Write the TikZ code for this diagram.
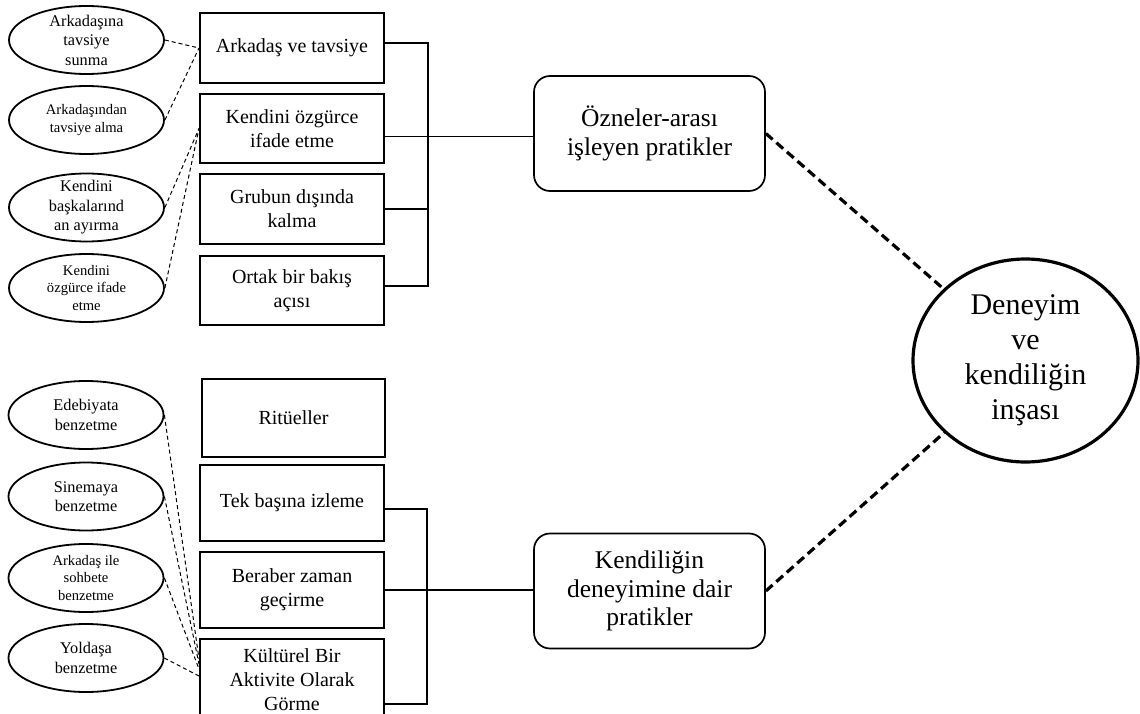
\documentclass[tikz,border=0pt]{standalone}
\usepackage{fontspec}
\setmainfont{Liberation Serif}
\usetikzlibrary{shapes.geometric}
\tikzset{
	fs/.style 2 args={font=\fontsize{#1}{#2}\selectfont},
	item box/.style={draw, line width=2pt, minimum width=184pt, inner sep=2pt,
		align=center, fs={20}{24}},
	theme box/.style={draw, line width=1.7pt, rounded corners=16pt,
		minimum width=231pt, minimum height=115pt, align=center, fs={25.5}{28.5}},
	sub ellipse/.style={draw, ellipse, line width=1.8pt, minimum width=155pt,
		minimum height=68pt, inner sep=-6pt, align=center, fs={16.3}{19.5}},
	small text/.style={fs={14.6}{17.5}},
	core/.style={draw, ellipse, line width=3.2pt, minimum width=225pt,
		minimum height=203pt, inner sep=0pt, align=center, fs={30}{35}},
	hint/.style={line width=1pt, dash pattern=on 4pt off 3pt},
	main link/.style={line width=3.2pt, dash pattern=on 9pt off 5pt},
	bracket/.style={line width=1.7pt}
}

\begin{document}
\begin{tikzpicture}[x=1pt, y=-1pt]
  \useasboundingbox (0,0) rectangle (1140,714);
  \clip (0,0) rectangle (1140,714);
  % upper group
  \node[item box, minimum height=70pt] (friend)  at (292,48)    {Arkadaş ve tavsiye};
  \node[item box, minimum height=69pt] (express) at (292,128.5) {Kendini özgürce\\ifade etme};
  \node[item box, minimum height=70pt] (outside) at (292,209)   {Grubun dışında\\kalma};
  \node[item box, minimum height=69pt] (common)  at (292,290.5) {Ortak bir bakış\\açısı};
  % lower group
  \node[item box, minimum width=183pt, minimum height=78pt] (ritual) at (293.5,418) {Ritüeller};
  \node[item box, minimum height=76pt] (alone)    at (292,503) {Tek başına izleme};
  \node[item box, minimum height=76pt] (together) at (292,590) {Beraber zaman\\geçirme};
  \node[item box, minimum height=82pt] (culture)  at (292,680) {Kültürel Bir\\Aktivite Olarak\\Görme};
  % ellipses
  \node[sub ellipse] (adviceGive) at (86.5,40) {Arkadaşına\\tavsiye\\sunma};
  \node[sub ellipse, small text] (adviceTake) at (86.5,120) {Arkadaşından\\tavsiye alma};
  \node[sub ellipse] (apart) at (86.5,207.5) {Kendini\\başkalarınd\\an ayırma};
  \node[sub ellipse, small text] (freeSelf) at (86.5,288) {Kendini\\özgürce ifade\\etme};
  \node[sub ellipse] (literature) at (86,415) {Edebiyata\\benzetme};
  \node[sub ellipse] (cinema) at (86,496.5) {Sinemaya\\benzetme};
  \node[sub ellipse, small text] (chat) at (86,578) {Arkadaş ile\\sohbete\\benzetme};
  \node[sub ellipse] (comrade) at (86,658) {Yoldaşa\\benzetme};
  % themes and core
  \node[theme box] (inter)   at (649.5,133.5) {Özneler-arası\\işleyen pratikler};
  \node[theme box] (selfexp) at (649.5,591)   {Kendiliğin\\deneyimine dair\\pratikler};
  \node[core] (core) at (1025.5,360.5) {Deneyim\\ve\\kendiliğin\\inşası};

  % dashed hints
  \draw[hint] (adviceGive.east) -- (friend.west);
  \draw[hint] (adviceTake.east) -- (friend.west);
  \draw[hint] (apart.east) -- (express.west);
  \draw[hint] (freeSelf.east) -- (express.west);
  \draw[hint] (literature.east) -- ([yshift=21pt]culture.west);
  \draw[hint] (cinema.east) -- ([yshift=16pt]culture.west);
  \draw[hint] (chat.east) -- ([yshift=11pt]culture.west);
  \draw[hint] (comrade.east) -- ([yshift=4pt]culture.west);

  % brackets
  \draw[bracket] ([yshift=5pt]friend.east) -- ++(43,0) |- ([yshift=4.5pt]common.east);
  \draw[bracket] (outside.east) -- ++(43,0);
  \draw[bracket] ([yshift=-8pt]express.east) -- ([yshift=-8pt]express.east -| inter.west);
  \draw[bracket] ([yshift=-6pt]alone.east) -- ++(42,0) |- ([yshift=-24pt]culture.east);
  \draw[bracket] (together.east) -- (together.east -| selfexp.west);

  % links to the core
  \draw[main link] (inter.east) -- (core);
  \draw[main link] (selfexp.east) -- (core);
\end{tikzpicture}
\end{document}
